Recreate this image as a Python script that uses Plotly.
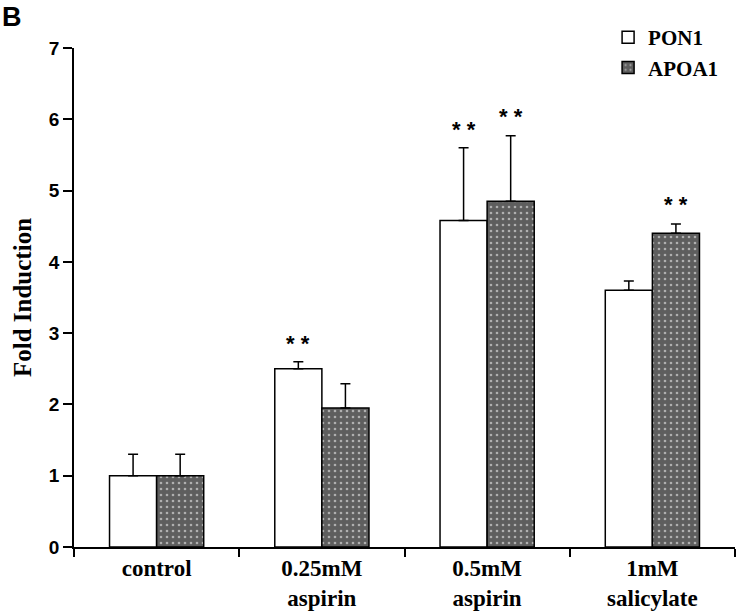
import plotly.graph_objects as go

categories = ["control", "0.25mM<br>aspirin", "0.5mM<br>aspirin", "1mM<br>salicylate"]
pon1 = [1.0, 2.5, 4.58, 3.6]
pon1_err = [0.3, 0.1, 1.02, 0.13]
apoa1 = [1.0, 1.95, 4.85, 4.4]
apoa1_err = [0.3, 0.34, 0.92, 0.13]
pon1_sig = ["", "**", "**", ""]
apoa1_sig = ["", "", "**", "**"]
y_ticks = [0, 1, 2, 3, 4, 5, 6, 7]

serif = "Liberation Serif"
sans = "Liberation Sans"

fig = go.Figure()
fig.add_trace(go.Bar(
    name="<b>PON1</b>", x=categories, y=pon1,
    marker=dict(color="white", line=dict(color="black", width=1.5)),
    error_y=dict(type="data", symmetric=False, array=pon1_err,
                 arrayminus=[0] * len(pon1), color="black", thickness=1.5, width=5),
))
fig.add_trace(go.Bar(
    name="<b>APOA1</b>", x=categories, y=apoa1,
    marker=dict(color="#5e5e5e", line=dict(color="black", width=1.5),
                pattern=dict(shape=".", fgcolor="white", bgcolor="#5e5e5e",
                             size=6, solidity=0.15)),
    error_y=dict(type="data", symmetric=False, array=apoa1_err,
                 arrayminus=[0] * len(apoa1), color="black", thickness=1.5, width=5),
))

half = (1 - 0.43) / 4
for i, s in enumerate(pon1_sig):
    if s:
        fig.add_annotation(x=i - half, y=pon1[i] + pon1_err[i] + 0.25, text="<b>* *</b>",
                           showarrow=False, font=dict(family=sans, size=22, color="black"))
for i, s in enumerate(apoa1_sig):
    if s:
        fig.add_annotation(x=i + half, y=apoa1[i] + apoa1_err[i] + 0.27, text="<b>* *</b>",
                           showarrow=False, font=dict(family=sans, size=22, color="black"))

fig.add_annotation(xref="paper", yref="paper", x=-74 / 662, y=1 + 48 / 499,
                   xanchor="left", yanchor="top", text="<b>B</b>", showarrow=False,
                   font=dict(family=sans, size=27, color="black"))

fig.update_layout(
    width=736, height=614,
    margin=dict(l=74, r=1, t=48, b=67, autoexpand=False),
    paper_bgcolor="white", plot_bgcolor="white",
    barmode="group", bargap=0.43, bargroupgap=0,
    showlegend=True,
    legend=dict(x=0.808, y=1 + 31 / 499, xanchor="left", yanchor="top",
                font=dict(family=serif, size=21, color="black"),
                itemwidth=30, tracegroupgap=0, bgcolor="rgba(0,0,0,0)"),
    font=dict(family=serif, color="black"),
)
fig.update_xaxes(
    range=[-0.5, 3.5], showline=True, linecolor="black", linewidth=1.5,
    ticks="outside", tickson="boundaries", ticklen=8, tickwidth=1.5, tickcolor="black",
    tickfont=dict(family=serif, size=23, color="black"), showgrid=False, automargin=False,
    tickvals=categories,
    ticktext=["<b>" + c.replace("<br>", "</b><br><b>") + "</b>" for c in categories],
)
fig.update_yaxes(
    range=[0, 7], tickvals=y_ticks, ticktext=["<b>%d</b>" % v for v in y_ticks],
    showline=True, linecolor="black", linewidth=1.5,
    ticks="outside", ticklen=9, tickwidth=1.5, tickcolor="black",
    tickfont=dict(family=sans, size=19, color="black"), showgrid=False, zeroline=False,
    automargin=False,
    title=dict(text="<b>Fold Induction</b>", font=dict(family=serif, size=25, color="black"),
               standoff=10),
)

fig.write_html("out.html", config={"displayModeBar": False},
               post_script="document.body.style.margin='0';")
